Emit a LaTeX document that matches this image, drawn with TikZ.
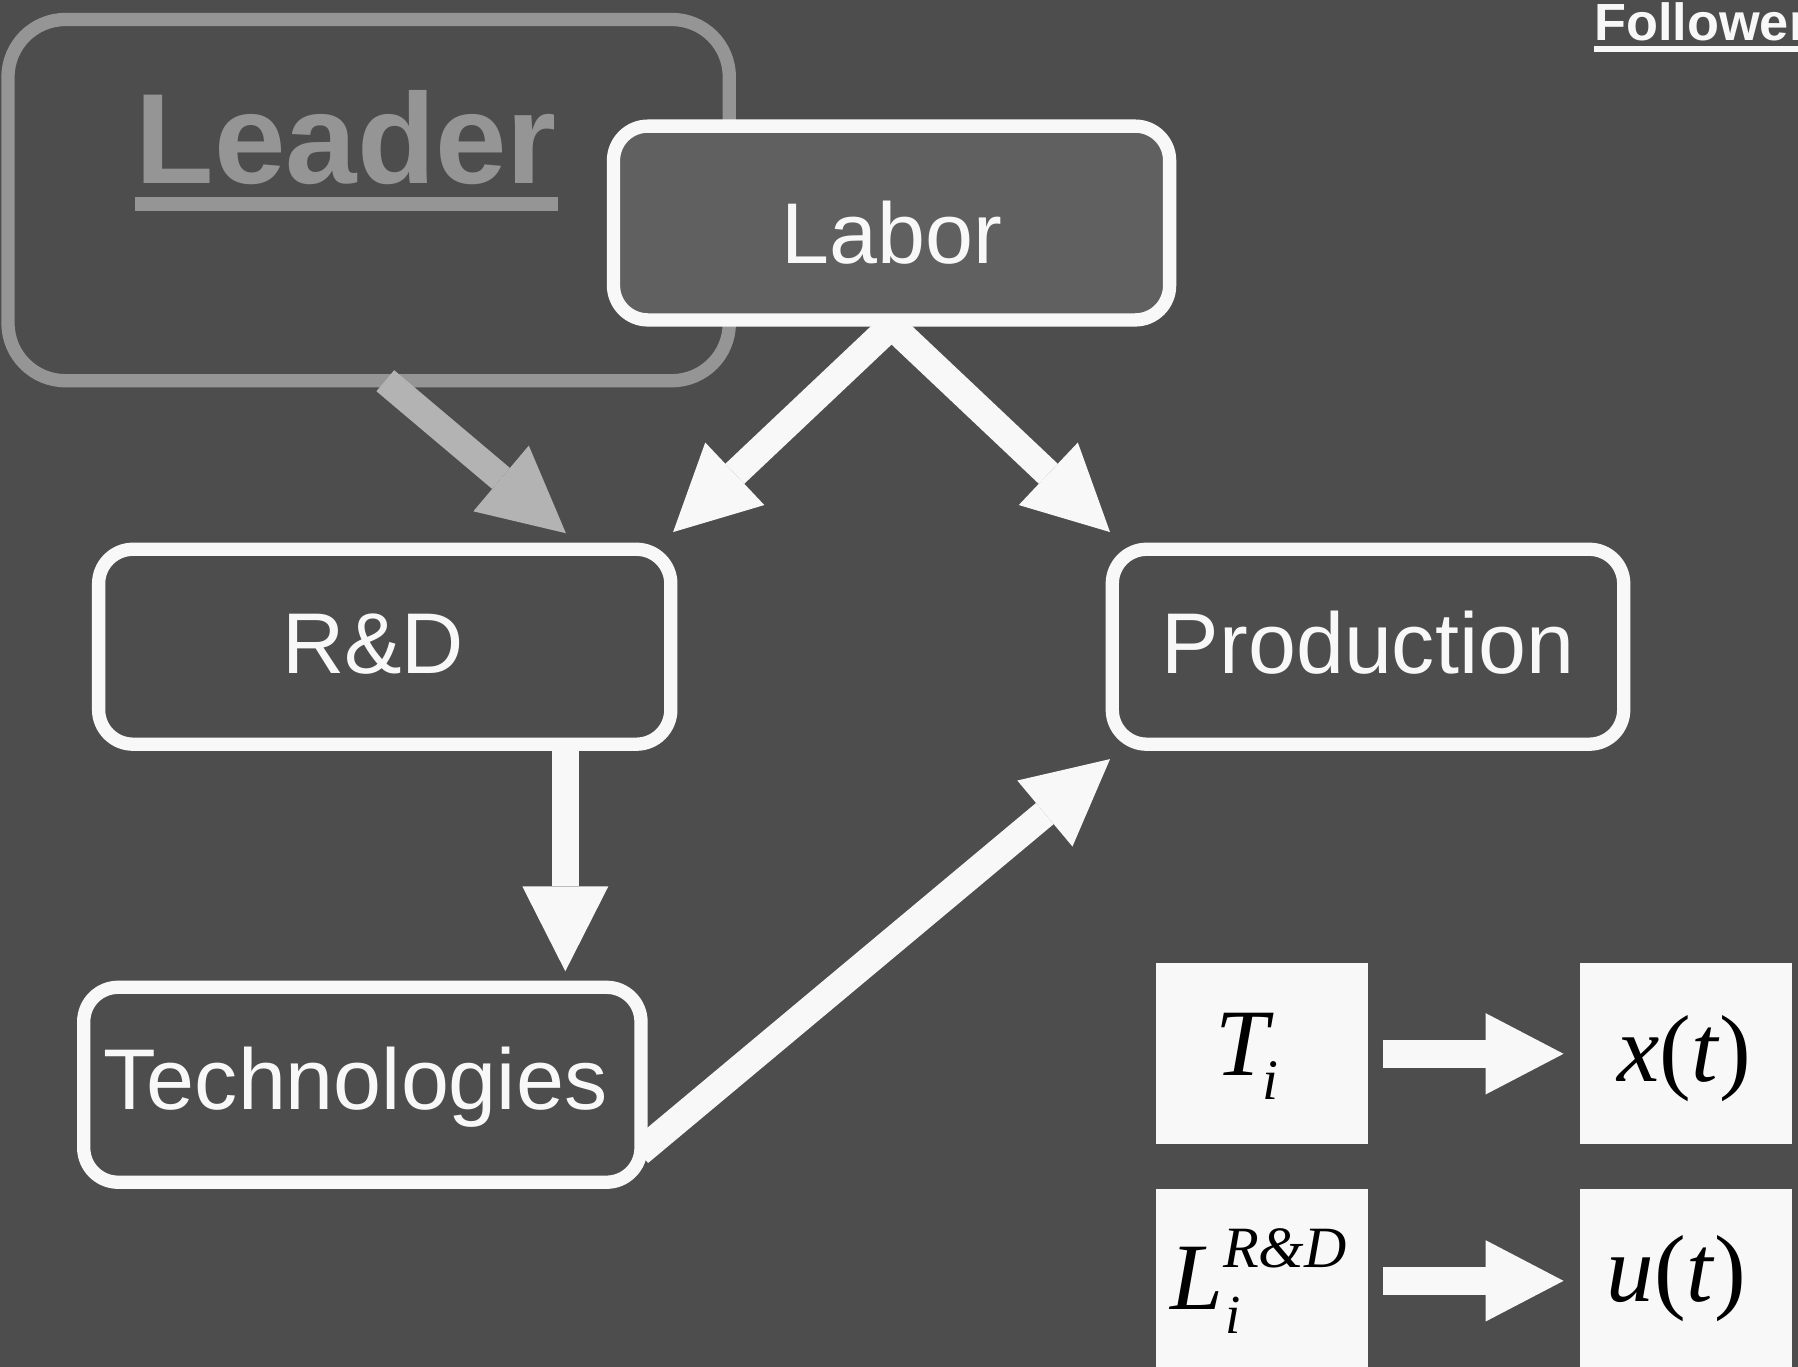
\documentclass[tikz,border=0pt]{standalone}
\usepackage{fontspec}
\newfontfamily\boxfont{Liberation Sans}
\newfontfamily\eqfont{Liberation Serif}
\usetikzlibrary{arrows.meta,calc}
\pgfdeclarelayer{back}
\pgfdeclarelayer{arrowlayer}
\pgfsetlayers{back,arrowlayer,main}
\definecolor{bgc}{HTML}{4D4D4D}
\definecolor{laborfill}{HTML}{606060}
\definecolor{leadergray}{HTML}{959595}
\definecolor{arrowgray}{HTML}{B3B3B3}
\definecolor{whitec}{HTML}{F8F8F8}
\tikzset{
  roundbox/.style={draw=whitec, line width=5.8pt, rounded corners=15pt, fill=bgc,
    inner sep=0pt, outer sep=0pt, text=whitec, text depth=0pt,
    font=\boxfont\fontsize{37.6pt}{40pt}\selectfont},
  leaderbox/.style={draw=leadergray, line width=5.8pt, rounded corners=25pt,
    inner sep=0pt, outer sep=0pt, minimum width=314.5pt, minimum height=157.5pt},
  eqbox/.style={fill=whitec, inner sep=0pt, outer sep=0pt, minimum width=92.5pt, minimum height=79pt},
  eqtext/.style={inner sep=0pt, text=black, font=\eqfont\itshape\fontsize{41.5pt}{45pt}\selectfont},
  bigarrow/.style={line width=12pt, draw=#1,
    -{Triangle[length=37pt, width=37.5pt, line width=0pt]}},
  smallarrow/.style={line width=12pt, draw=whitec,
    -{Triangle[length=34pt, width=35.5pt, line width=0pt]}},
}
\begin{document}
\begin{tikzpicture}[x=0.5pt, y=-0.5pt]
\useasboundingbox (0,0) rectangle (1568,1192);

% background, leader frame and its title
\begin{pgfonlayer}{back}
  \fill[bgc] (0,0) rectangle (1568,1192);
  \node[leaderbox] (leader) at (321.5,174.5) {};
  \node[anchor=base, inner sep=0pt, text=leadergray,
        font=\boxfont\bfseries\fontsize{56pt}{60pt}\selectfont] (leadertitle) at (302,160) {Leader};
  \draw[leadergray, line width=5.8pt] ($(leadertitle.base west)+(0,18)$) -- ($(leadertitle.base east)+(1,18)$);
\end{pgfonlayer}

% flow boxes
\node[roundbox, fill=laborfill, minimum width=242.5pt, minimum height=84.5pt, text height=35.5pt]
  (labor) at (777.5,194.5) {Labor};
\node[roundbox, minimum width=249.5pt, minimum height=85pt, text height=23pt]
  (rd) at (335.5,564) {R\&D\kern10pt};
\node[roundbox, minimum width=223pt, minimum height=85pt, text height=23pt]
  (prod) at (1193,564) {Production};
\node[roundbox, minimum width=243pt, minimum height=85pt, text height=22pt]
  (tech) at (316,946) {Technologies\kern6pt};

% variable boxes
\node[eqbox] (ti)  at (1100.5,919)  {};
\node[eqbox] (xt)  at (1470,919)    {};
\node[eqbox] (lrd) at (1100.5,1116) {};
\node[eqbox] (ut)  at (1470,1116)   {};

\node[eqtext, anchor=base west] (tisym) at ($(ti.center)+(-40.5,18.5)$)
  {T\kern-3pt\raisebox{-10.75pt}{\fontsize{25pt}{25pt}\selectfont i}};
\node[eqtext, anchor=base] (xtsym) at ($(xt.center)+(-1,24)$)
  {x\/\upshape(\itshape t\/\upshape)};
\node[eqtext, anchor=base west] (lrdsym) at ($(lrd.center)+(-80.5,26)$)
  {L\rlap{\kern1pt\raisebox{-10.5pt}{\fontsize{24pt}{24pt}\selectfont i}}\raisebox{18.5pt}{\fontsize{25.5pt}{25.5pt}\selectfont R\&D}};
\node[eqtext, anchor=base] (utsym) at ($(ut.center)+(-8,19.4)$)
  {u\/\upshape(\itshape t\/\upshape)};

% connectors
\begin{pgfonlayer}{back}
  \draw[bigarrow=arrowgray] ($(leader.south)+(14.5,0)$) -- ($(rd.north)+(158,-14)$);
\end{pgfonlayer}
\begin{pgfonlayer}{arrowlayer}
  \draw[bigarrow=whitec] ($(labor.south)+(0,5)$) -- ($(rd.north east)+(2,-15)$);
  \draw[bigarrow=whitec] ($(labor.south)+(0,5)$) -- ($(prod.north west)+(-2,-15)$);
  \draw[bigarrow=whitec] ($(rd.south)+(157.5,0)$) -- ($(tech.north)+(177,-14)$);
  \draw[bigarrow=whitec] ($(tech.south east)+(-1.5,-26)$) -- ($(prod.south west)+(-2,13)$);
\end{pgfonlayer}
\draw[smallarrow] ($(ti.east)+(13,0)$) -- ($(xt.west)+(-14,0)$);
\draw[smallarrow] ($(lrd.east)+(13,1)$) -- ($(ut.west)+(-14,1)$);

% heading at the top edge
\begin{scope}
  \clip (0,0) rectangle (1568,1192);
  \node[anchor=base west, inner sep=0pt, text=whitec,
        font=\boxfont\bfseries\fontsize{22.8pt}{25pt}\selectfont] (follower) at (1390,35.5) {Follower};
  \draw[whitec, line width=2.5pt] ($(follower.base west)+(0,7)$) -- ($(follower.base east)+(4,7)$);
\end{scope}
\end{tikzpicture}
\end{document}
